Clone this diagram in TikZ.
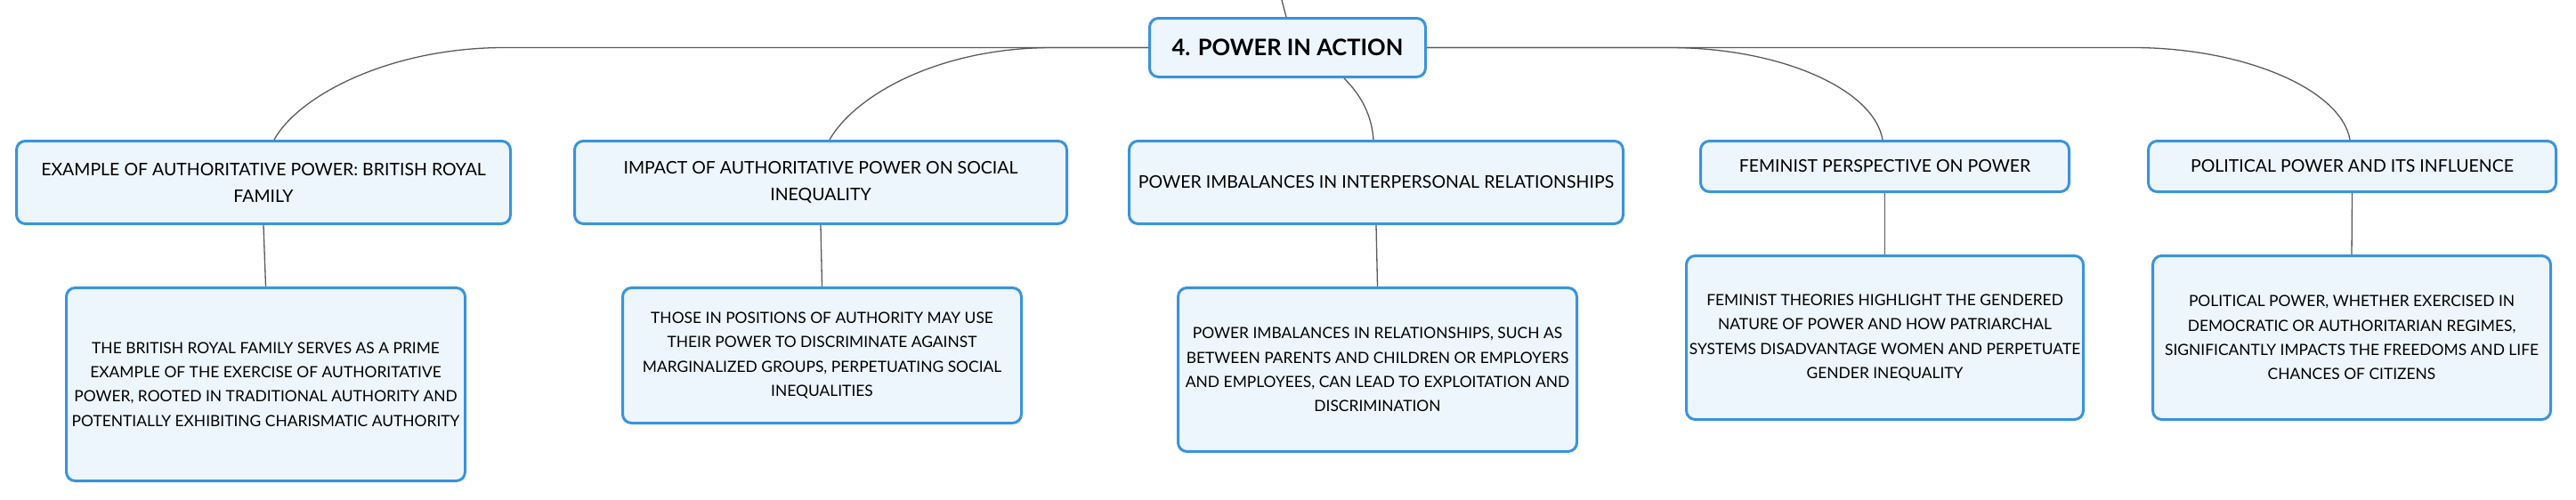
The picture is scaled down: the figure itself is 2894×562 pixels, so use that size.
\documentclass[tikz,border=0pt]{standalone}
\usepackage{fontspec}
\setmainfont{Lato}
\usetikzlibrary{calc}
\definecolor{boxblue}{HTML}{3A93DD}
\definecolor{boxfill}{HTML}{EEF6FD}
\definecolor{linegray}{HTML}{5A5A5A}
\tikzset{
  topic/.style={draw=boxblue, line width=3pt, fill=boxfill, rounded corners=10pt,
    inner sep=0pt, align=center, text=black},
  roottopic/.style={topic, font=\fontsize{25.5}{30}\selectfont\bfseries},
  headbox/.style={topic, font=\fontsize{19.5}{30}\selectfont},
  detailbox/.style={topic, font=\fontsize{17.4}{27.3}\selectfont},
  conn/.style={draw=linegray, line width=1.3pt},
}
\begin{document}
\begin{tikzpicture}[x=1pt, y=-1pt]
\useasboundingbox (0,0) rectangle (2894,562);

% root
\node[roottopic, minimum width=310, minimum height=66] (root) at (1446.5,53.5) {4. POWER IN ACTION};

% headers
\node[headbox, minimum width=555, minimum height=93] (b1) at (296,205)
  {EXAMPLE OF AUTHORITATIVE POWER: BRITISH ROYAL\\FAMILY};
\node[headbox, minimum width=553, minimum height=93] (b2) at (922,205)
  {IMPACT OF AUTHORITATIVE POWER ON SOCIAL\\INEQUALITY};
\node[headbox, minimum width=555, minimum height=93] (b3) at (1546,205)
  {POWER IMBALANCES IN INTERPERSONAL RELATIONSHIPS};
\node[headbox, minimum width=414, minimum height=57] (b4) at (2117.5,187)
  {FEMINIST PERSPECTIVE ON POWER};
\node[headbox, minimum width=458, minimum height=57] (b5) at (2642.5,187)
  {POLITICAL POWER AND ITS INFLUENCE};

% details
\node[detailbox, minimum width=448, minimum height=217] (c1) at (298.5,432)
  {THE BRITISH ROYAL FAMILY SERVES AS A PRIME\\EXAMPLE OF THE EXERCISE OF AUTHORITATIVE\\POWER, ROOTED IN TRADITIONAL AUTHORITY AND\\POTENTIALLY EXHIBITING CHARISMATIC AUTHORITY};
\node[detailbox, minimum width=448, minimum height=152] (c2) at (923.5,399.5)
  {THOSE IN POSITIONS OF AUTHORITY MAY USE\\THEIR POWER TO DISCRIMINATE AGAINST\\MARGINALIZED GROUPS, PERPETUATING SOCIAL\\INEQUALITIES};
\node[detailbox, minimum width=448, minimum height=184] (c3) at (1547.5,415.5)
  {POWER IMBALANCES IN RELATIONSHIPS, SUCH AS\\BETWEEN PARENTS AND CHILDREN OR EMPLOYERS\\AND EMPLOYEES, CAN LEAD TO EXPLOITATION AND\\DISCRIMINATION};
\node[detailbox, minimum width=446, minimum height=184] (c4) at (2117.5,379.5)
  {FEMINIST THEORIES HIGHLIGHT THE GENDERED\\NATURE OF POWER AND HOW PATRIARCHAL\\SYSTEMS DISADVANTAGE WOMEN AND PERPETUATE\\GENDER INEQUALITY};
\node[detailbox, minimum width=447, minimum height=184] (c5) at (2642,379.5)
  {POLITICAL POWER, WHETHER EXERCISED IN\\DEMOCRATIC OR AUTHORITARIAN REGIMES,\\SIGNIFICANTLY IMPACTS THE FREEDOMS AND LIFE\\CHANCES OF CITIZENS};

% incoming line from above
\coordinate (topin) at (1440,0);
\draw[conn] (topin) .. controls (1442,8) .. ($(root.north)+(-1.5,0)$);

% root to headers
\draw[conn] (root.west) -- (567,53.5) .. controls (437,53.5) and (335,108) .. ($(b1.north)+(12,0)$);
\draw[conn] (root.west) -- (1183,53.5) .. controls (1053,53.5) and (960,108) .. ($(b2.north)+(10,0)$);
\draw[conn] ($(root.south)+(63.5,0)$) .. controls (1530,108) and (1541,130) .. ($(b3.north)+(-3,0)$);
\draw[conn] (root.east) -- (1875,53.5) .. controls (2000,53.5) and (2105,100) .. ($(b4.north)+(-2.5,0)$);
\draw[conn] (root.east) -- (2396,53.5) .. controls (2520,53.5) and (2630,100) .. ($(b5.north)+(-2.5,0)$);

% headers to details
\draw[conn] (b1.south) -- (c1.north);
\draw[conn] (b2.south) -- (c2.north);
\draw[conn] (b3.south) -- (c3.north);
\draw[conn] (b4.south) -- (c4.north);
\draw[conn] (b5.south) -- (c5.north);
\end{tikzpicture}
\end{document}
